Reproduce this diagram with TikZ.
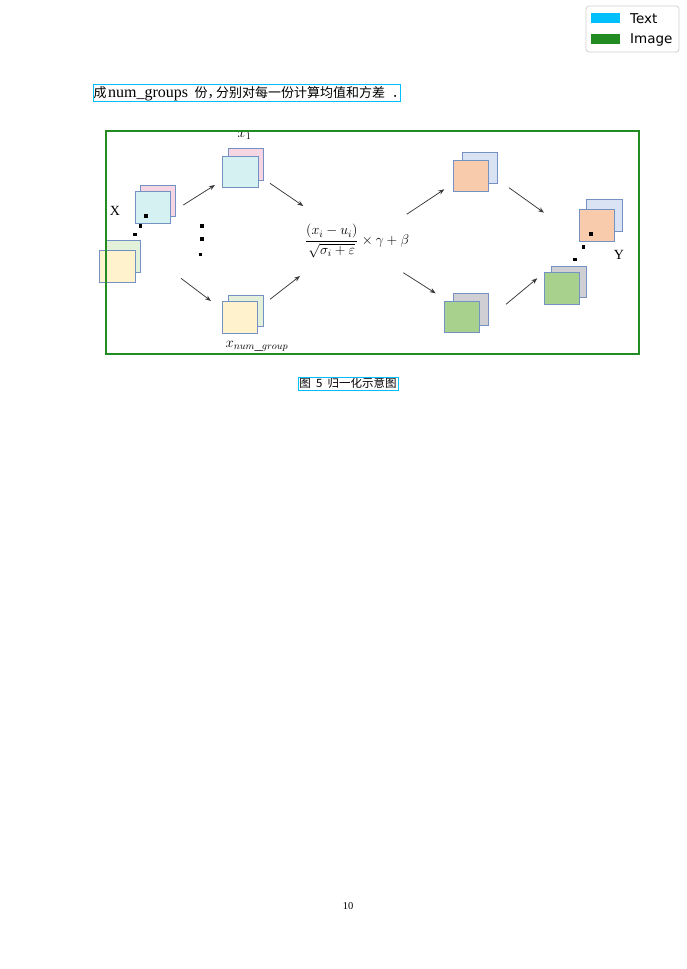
\RequirePackage{fix-cm}
\documentclass[tikz,border=0pt]{standalone}
\usepackage{fontspec}
\setmainfont{Liberation Serif}
\newfontfamily\cjk{Noto Sans CJK SC}
\newfontfamily\dvs{DejaVu Sans}
\usetikzlibrary{arrows.meta}
\definecolor{annCyan}{HTML}{00BFFF}
\definecolor{annGreen}{HTML}{228B22}
\definecolor{sqBorder}{HTML}{7391C2}
\definecolor{cPink}{HTML}{F6D6E2}
\definecolor{cCyan}{HTML}{D5F1F1}
\definecolor{cYellow}{HTML}{FFF2CC}
\definecolor{cLGreen}{HTML}{E3F0DA}
\definecolor{cOrange}{HTML}{F8CBAD}
\definecolor{cBlue}{HTML}{DAE3F3}
\definecolor{cGray}{HTML}{D0CFD3}
\definecolor{cGreen}{HTML}{A9D18E}
\definecolor{arrowCol}{HTML}{3A3A3A}
\tikzset{
  sq/.style={draw=sqBorder, line width=1pt, minimum width=35.5pt, minimum height=31.5pt, inner sep=0pt, outer sep=0pt},
  dotsq/.style={fill=black, minimum size=3.6pt, inner sep=0pt},
  arr/.style={draw=arrowCol, line width=0.75pt, -{Stealth[length=6pt,width=4.5pt,inset=2pt]}},
  lbl/.style={inner sep=0pt, font=\fontsize{14}{16}\selectfont},
  mlbl/.style={inner sep=0pt, font=\fontsize{14.5}{17}\selectfont},
}
\begin{document}
\begin{tikzpicture}[x=1pt,y=-1pt]
\useasboundingbox (0,0) rectangle (686,969);
\fill[white] (0,0) rectangle (686,969);

% legend
\draw[draw=black!18, fill=white, rounded corners=3pt, line width=0.8pt] (586,6) rectangle (679,52);
\fill[annCyan] (591,13) rectangle (620,23);
\fill[annGreen] (591,34) rectangle (620,44);
\node[anchor=west, inner sep=0pt, font=\dvs\fontsize{13.5}{15}\selectfont] (legtext) at (630,18.5) {Text};
\node[anchor=west, inner sep=0pt, font=\dvs\fontsize{13.5}{15}\selectfont] (legimage) at (630,39.5) {Image};

% body text line
\node[anchor=base west, inner sep=0pt, font=\fontsize{13}{15}\selectfont] (bodyline) at (93.5,97)
  {\makebox[14.5pt][l]{\cjk 成}%
   \makebox[86.5pt][l]{\fontsize{16}{18}\selectfont num\_groups}%
   \makebox[21.5pt][l]{\cjk 份，}%
   {\cjk 分别对每一份计算均值和方差}\hspace{7pt}{\cjk ．}};
\draw[annCyan, line width=1pt] (93,84) rectangle (400,101);

% image content
\begin{scope}
\clip (0,131) rectangle (686,354);
% X stack
\node[sq, fill=cPink] (xa1) at (157.9,201.2) {};
\node[sq, fill=cCyan] (xa2) at (152.9,207.5) {};
\node[sq, fill=cLGreen] (xb1) at (122.9,256.4) {};
\node[sq, fill=cYellow] (xb2) at (117.7,266.7) {};
\node[dotsq] (xd1) at (146,215.7) {};
\node[dotsq] (xd2) at (140.5,225.7) {};
\node[dotsq] (xd3) at (135,234.3) {};
\node[lbl] (xlabel) at (115,211) {X};
% x1 stack
\node[sq, fill=cPink] (g1a) at (245.8,164.5) {};
\node[sq, fill=cCyan] (g1b) at (240.3,171.9) {};
\node[mlbl] (g1label) at (244.5,135.5) {$x_1$};
% vertical dots
\node[dotsq] (vd1) at (201.7,225.7) {};
\node[dotsq] (vd2) at (201.7,239) {};
\node[dotsq] (vd3) at (200.5,254.3) {};
% xnum stack
\node[sq, fill=cLGreen] (gna) at (245.8,310.9) {};
\node[sq, fill=cYellow] (gnb) at (240.2,317.5) {};
\node[mlbl] (gnlabel) at (257,346) {$x_{num\_group}$};
% formula
\node[lbl] (formula) at (357,241) {$\displaystyle\frac{(x_i-u_i)}{\sqrt{\sigma_i+\varepsilon}}\times\gamma+\beta$};
% right middle stacks
\node[sq, fill=cBlue] (ma1) at (479.8,167.8) {};
\node[sq, fill=cOrange] (ma2) at (470.8,175.9) {};
\node[sq, fill=cGray] (mb1) at (470.8,309.7) {};
\node[sq, fill=cGreen] (mb2) at (461.8,317.2) {};
% Y stacks
\node[sq, fill=cBlue] (ya1) at (604.5,215.5) {};
\node[sq, fill=cOrange] (ya2) at (596.8,225.5) {};
\node[sq, fill=cGray] (yb1) at (569.2,281.9) {};
\node[sq, fill=cGreen] (yb2) at (561.8,288.4) {};
\node[dotsq] (yd1) at (590.7,233.7) {};
\node[dotsq] (yd2) at (583.3,247) {};
\node[dotsq] (yd3) at (575,259.3) {};
\node[lbl] (ylabel) at (619,255) {Y};
% arrow coordinates
\coordinate (a1s) at (183.3,205);   \coordinate (a1e) at (215,185);
\coordinate (a2s) at (181,278.3);   \coordinate (a2e) at (211,301);
\coordinate (a3s) at (270,183.3);   \coordinate (a3e) at (303.3,206);
\coordinate (a4s) at (270,299.3);   \coordinate (a4e) at (300,276);
\coordinate (a5s) at (406.7,214.3); \coordinate (a5e) at (444.3,189.3);
\coordinate (a6s) at (509,187.7);   \coordinate (a6e) at (544,212.7);
\coordinate (a7s) at (403.3,272.7); \coordinate (a7e) at (435.7,293.3);
\coordinate (a8s) at (506,304.3);   \coordinate (a8e) at (537.3,278.3);
\draw[arr] (a1s) -- (a1e);
\draw[arr] (a2s) -- (a2e);
\draw[arr] (a3s) -- (a3e);
\draw[arr] (a4s) -- (a4e);
\draw[arr] (a5s) -- (a5e);
\draw[arr] (a6s) -- (a6e);
\draw[arr] (a7s) -- (a7e);
\draw[arr] (a8s) -- (a8e);
\end{scope}
\draw[annGreen, line width=1.2pt] (106,131) rectangle (639,354);

% caption
\node[inner sep=0pt, font=\cjk\fontsize{11.5}{13}\selectfont] (caption) at (348,383.5) {图\ \ 5\ \ 归一化示意图};
\draw[annCyan, line width=1pt] (298,377) rectangle (398,390);

% page number
\node[inner sep=0pt, font=\fontsize{10.5}{12}\selectfont] (pagenum) at (348,906) {10};
\end{tikzpicture}
\end{document}
